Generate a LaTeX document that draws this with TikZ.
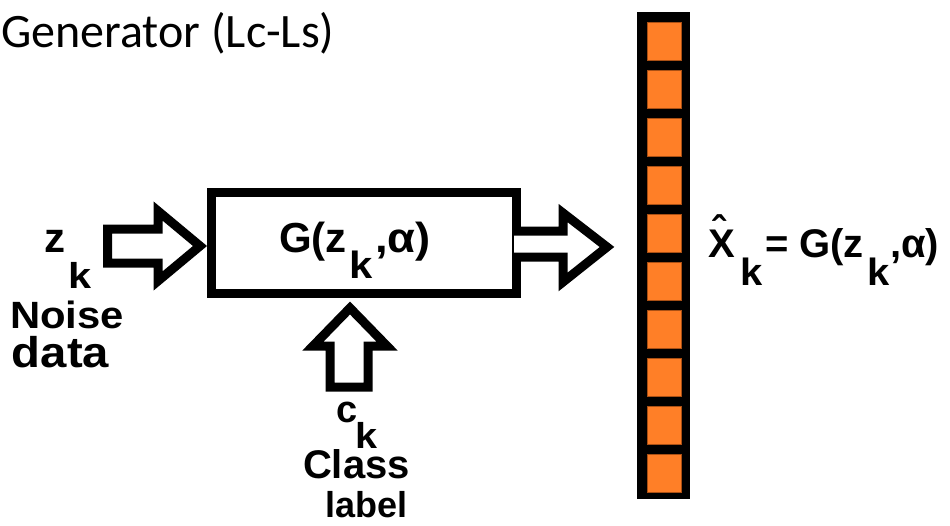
\documentclass[tikz,border=0pt]{standalone}
\usepackage{fontspec}
\usepackage{graphicx}
\setmainfont{Carlito}
\newfontfamily\lab{Liberation Sans}
\newcommand\widen[2]{\scalebox{#1}[1]{#2}}
\definecolor{cellorange}{RGB}{255,127,39}
\definecolor{celledge}{RGB}{170,80,20}
\begin{document}
\begin{tikzpicture}[x=1pt,y=-1pt,
  lab/.style={font=\lab\bfseries\fontsize{#1}{#1}\selectfont, inner sep=0pt, outer sep=0pt, anchor=base west},
  lab/.default=40,
  hollow/.style={draw=black, line width=9pt, line join=miter, fill=white},
  cell/.style={fill=cellorange, draw=celledge, line width=0.8pt},
]
\useasboundingbox (0,0) rectangle (950,525);

% title
\node[anchor=base west, inner sep=0pt, font=\fontsize{48}{48}\selectfont] (title) at (1,47) {Generator (Lc-Ls)};

% output vector: black strip holding ten orange cells
\node[fill=black, minimum width=53pt, minimum height=487pt, inner sep=0pt, anchor=north west] (bar) at (637,12) {};
\foreach \i in {0,...,9}
  \draw[cell] (647,22+48*\i) rectangle (681,60+48*\i);

% generator block
\node[draw=black, line width=9pt, minimum width=305pt, minimum height=101pt, inner sep=0pt] (gen) at (364,243) {};
\node[lab=42] (gz) at (279,252) {G(z};
\node[lab=38] (gk) at (349,278) {\widen{1.1}{k}};
\node[lab=42] (ga) at (375,252) {\widen{1.08}{,α)}};

% noise input arrow
\draw[hollow] (107.5,229) -- (158,229) -- (158,211) -- (200,246) -- (158,281) -- (158,263) -- (107.5,263) -- cycle;
% output arrow leaving the block
\draw[hollow] (514,231) -- (563,231) -- (563,213) -- (607,247) -- (563,282) -- (563,257) -- (514,257);
% class label arrow
\draw[hollow] (330,387) -- (330,346) -- (313,346) -- (350,308) -- (387,346) -- (368,346) -- (368,387) -- cycle;

% noise input label
\node[lab=42] (zz) at (44,252) {z};
\node[lab=36] (zk) at (68,288) {\widen{1.15}{k}};
\node[lab=38] (noise) at (10,328) {\widen{1.1}{Noise}};
\node[lab=43] (data) at (12,367) {\widen{1.1}{data}};

% class input label
\node[lab=38] (cc) at (336,422) {c};
\node[lab=36] (ck) at (355,448) {\widen{1.1}{k}};
\node[lab=40] (cls) at (303,478) {Class};
\node[lab=36] (lbl) at (325,517) {label};

% output formula
\node[lab=40] (xx) at (708,257) {X};
\node[lab=40, anchor=base] (hat) at (719,244) {ˆ};
\node[lab=38] (xk) at (740,285) {\widen{1.05}{k}};
\node[lab=40] (eq) at (765,257) {= G(z};
\node[lab=38] (ek) at (867,285) {\widen{1.05}{k}};
\node[lab=40] (ea) at (890,257) {,α)};
\end{tikzpicture}
\end{document}
